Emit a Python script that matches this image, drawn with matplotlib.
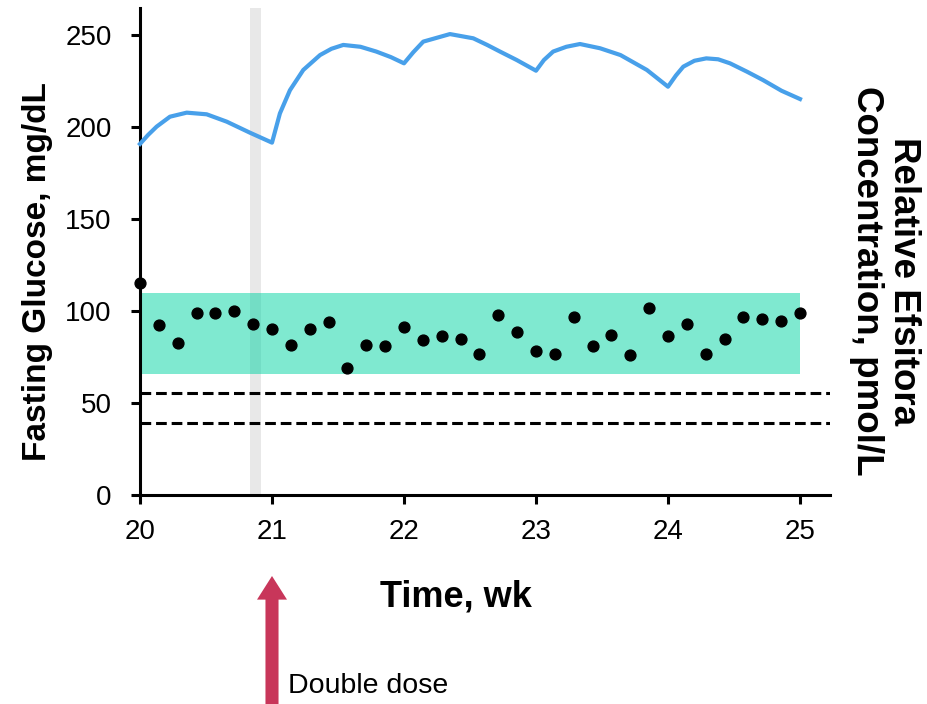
import numpy as np
import matplotlib
matplotlib.use('Agg')
from matplotlib import pyplot as plt

plt.rcParams['font.family'] = ['Liberation Sans', 'DejaVu Sans']

# fasting glucose, one reading per day (week 20 to week 25)
glucose_day = list(range(36))
glucose = [115, 92.4, 82.8, 99, 98.7, 100, 92.9, 90.4, 81.4, 90.2, 93.8, 69.2,
           81.4, 81, 91.5, 84, 86.2, 84.6, 76.6, 97.8, 88.6, 78.3, 76.8, 96.9,
           81.2, 86.8, 76.1, 101.6, 86.4, 92.9, 76.4, 84.6, 96.7, 95.7, 94.6, 98.9]

# relative efsitora concentration (drawn on the same scale)
conc_t = [20.0, 20.06, 20.126, 20.227, 20.354, 20.505, 20.657, 20.833, 21.0,
          21.06, 21.136, 21.237, 21.364, 21.45, 21.54, 21.67, 21.79, 21.9, 22.0,
          22.07, 22.146, 22.348, 22.525, 22.63, 22.727, 22.854, 23.0,
          23.06, 23.13, 23.23, 23.333, 23.485, 23.64, 23.84, 24.0,
          24.06, 24.116, 24.2, 24.29, 24.38, 24.47, 24.6, 24.72, 24.86, 25.0]
conc = [190.8, 195.6, 200.2, 205.6, 207.8, 206.9, 202.9, 196.9, 191.5,
        207.4, 220, 231, 239.1, 242.5, 244.6, 243.6, 241, 238, 234.6,
        240.6, 246.4, 250.5, 248.2, 244.6, 241, 236.4, 230.6,
        236.4, 241, 243.6, 245.1, 242.8, 239.1, 231, 221.9,
        228, 232.8, 236, 237.3, 236.8, 234.6, 230, 225.5, 219.7, 215.2]

target_range = (66, 110)      # green band
ref_lines = [55.4, 39.1]      # dashed thresholds
double_dose_span = (20.83, 20.92)
dose_week = 21
yticks = [0, 50, 100, 150, 200, 250]
xticks = [20, 21, 22, 23, 24, 25]

fig = plt.figure(figsize=(9.27, 7.04), dpi=100)
ax = fig.add_axes([140 / 927, 1 - 495 / 704, 690 / 927, 487 / 704])

ax.axvspan(*double_dose_span, color='#E8E8E8', zorder=1, lw=0)
ax.fill_between([20, 25], target_range[0], target_range[1],
                color=(0, 0.83, 0.64), alpha=0.5, lw=0, zorder=2)
for yv in ref_lines:
    ax.axhline(yv, color='black', lw=2.2, linestyle=(0, (3.5, 1.6)), zorder=3)

ax.plot(conc_t, conc, color='#48A0EA', lw=3, zorder=4, clip_on=False,
        solid_joinstyle='round')
wk = 20 + np.array(glucose_day) / 7
ax.plot(wk, glucose, 'o', color='black', ms=7.8, zorder=5, clip_on=False)

ax.set_xlim(20, 20 + 690 / 132)
ax.set_ylim(0, 487 / 1.84)
ax.set_xticks(xticks)
ax.set_yticks(yticks)
ax.tick_params(labelsize=20, width=2.2, length=6.5, color='black')
ax.tick_params(axis='y', pad=14)
ax.tick_params(axis='x', pad=11)

for s in ['top', 'right']:
    ax.spines[s].set_visible(False)
for s in ['left', 'bottom']:
    ax.spines[s].set_linewidth(2.2)

fig.text(38 / 927, 1 - 272 / 704, 'Fasting Glucose, mg/dL', rotation=90,
         fontsize=24, fontweight='bold', ha='center', va='center')
fig.text(456 / 927, 1 - 597 / 704, 'Time, wk', fontsize=26, fontweight='bold',
         ha='center', va='center')
fig.text(885 / 927, 1 - 281 / 704, 'Relative Efsitora\nConcentration, pmol/L',
         rotation=-90, fontsize=26.5, fontweight='bold', ha='center', va='center',
         linespacing=1.05)

# double dose arrow under the axis
ax.annotate('', xy=(dose_week, 1 - 576 / 704), xycoords=('data', 'figure fraction'),
            xytext=(dose_week, 0), textcoords=('data', 'figure fraction'),
            arrowprops=dict(width=9.4, headwidth=21.6, headlength=17, shrink=0,
                            facecolor='#C8365A', edgecolor='none'),
            annotation_clip=False)
fig.text(288 / 927, 1 - 686 / 704, 'Double dose', fontsize=20.5, ha='left', va='center')

fig.savefig('out.png', dpi=100)
